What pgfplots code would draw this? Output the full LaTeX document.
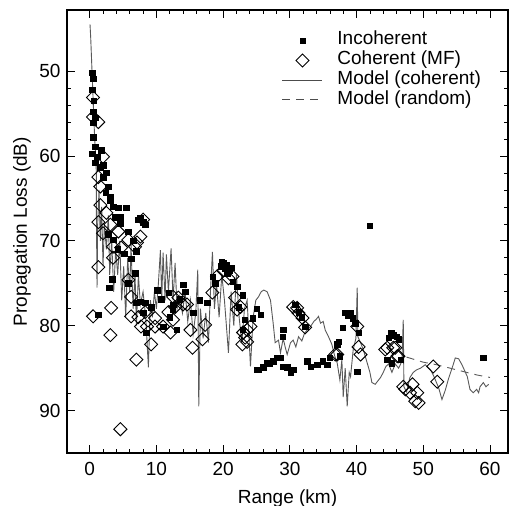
\documentclass[border=0pt]{standalone}
\usepackage{fontspec}
\setmainfont{Liberation Sans}
\usepackage{pgfplots}
\pgfplotsset{compat=1.18}
\pgfplotsset{
  legmark/.style={legend image code/.code={\draw[##1] plot coordinates {(20pt,0pt)}; \path[draw=none,fill=none] (0pt,0pt) rectangle (55pt,0pt);}},
  legline/.style={legend image code/.code={\draw[##1] (0pt,0pt) -- (40pt,0pt); \path[draw=none,fill=none] (0pt,0pt) rectangle (55pt,0pt);}},
}
\pgfplotstableread{
x y
0.4 50.2
0.5 50.9
0.4 52.2
0.6 53.5
0.5 54.8
0.8 55.5
0.5 56.1
0.5 57.8
0.8 58.9
0.4 59.7
1.1 60.1
0.8 60.8
1.6 61.3
1.7 59.3
2.0 61.1
2.0 62.5
2.5 62.0
2.8 63.6
2.4 64.3
3.1 64.8
3.1 65.2
3.5 66.0
4.3 66.1
5.5 66.1
3.8 67.2
4.6 67.2
4.6 67.9
7.3 67.5
7.6 67.3
8.0 67.8
8.3 68.1
5.8 68.9
3.5 69.9
2.8 69.2
6.5 70.0
4.2 71.0
5.2 71.5
6.2 72.1
7.0 71.2
3.4 74.5
2.9 75.5
5.8 75.0
6.8 73.8
7.0 77.3
7.6 77.2
8.3 77.3
8.0 78.5
9.2 77.8
10.1 75.8
10.7 76.9
11.8 76.1
12.5 77.5
12.4 78.1
13.5 76.9
14.0 75.2
14.3 76.0
1.3 78.7
8.5 80.8
11.0 80.1
12.0 79.0
13.0 80.5
15.5 78.5
16.5 77.0
17.6 77.3
18.4 74.2
18.8 75.0
19.6 73.0
19.8 72.5
20.0 72.6
20.3 73.3
20.5 72.8
20.6 73.8
21.0 73.5
21.2 73.2
21.4 74.8
22.1 75.4
22.3 77.8
22.9 76.4
22.9 80.5
23.2 79.3
24.4 79.1
25.0 78.0
25.6 78.7
25.1 85.2
25.3 85.2
26.0 84.9
26.6 84.4
27.0 84.4
27.5 84.2
28.0 83.8
28.6 83.8
28.9 84.8
29.6 84.9
30.1 85.5
30.5 85.2
29.0 80.5
28.9 81.3
30.8 77.5
31.3 78.4
31.8 79.0
32.3 80.1
32.6 84.2
33.1 84.8
34.1 84.6
34.9 84.2
35.6 84.6
36.0 83.8
37.1 82.2
37.3 81.9
37.5 83.6
37.9 80.2
38.3 78.5
38.7 78.8
39.1 78.5
39.4 79.1
39.8 79.7
40.3 80.8
40.1 85.4
42.0 68.2
44.8 81.4
45.2 80.9
45.5 81.1
46.0 81.3
46.3 81.6
46.6 84.0
45.3 84.4
44.6 84.0
59.0 83.8
}\incoherent
\pgfplotstableread{
x y
0.5 53.1
0.5 55.4
1.3 56.0
2.0 60.1
1.3 62.5
1.6 63.6
1.6 65.8
2.5 66.7
1.3 67.8
3.1 68.1
2.0 69.1
4.3 68.9
8.0 67.5
7.6 69.5
5.8 69.9
3.5 70.7
4.7 70.8
6.8 70.7
7.1 70.2
3.5 72.0
1.3 73.1
5.8 74.6
6.2 76.6
0.5 78.9
3.2 77.9
3.1 81.1
7.0 84.0
4.6 92.2
6.2 78.9
8.3 78.4
7.3 79.0
8.6 80.1
9.8 79.1
9.8 80.1
11.0 80.1
11.8 78.4
12.5 79.3
12.1 80.8
9.2 82.2
7.7 80.1
12.5 76.6
12.8 77.8
14.0 77.5
13.3 76.7
14.6 77.5
15.1 80.5
15.4 82.6
16.9 81.6
17.3 79.9
18.4 76.1
19.1 74.2
20.0 73.5
20.8 74.4
21.4 74.2
21.8 76.7
22.6 77.8
22.1 78.1
23.0 80.8
23.6 80.5
23.3 81.4
22.9 82.2
23.6 81.9
24.1 80.1
30.5 77.8
31.1 77.9
31.3 78.5
31.9 79.1
32.3 80.2
36.8 83.4
37.1 83.4
40.1 80.1
40.3 82.5
40.6 83.4
44.3 82.8
44.6 82.6
45.5 82.6
45.8 82.6
46.1 83.6
46.3 83.6
47.0 87.2
47.3 87.5
48.0 87.9
48.4 86.9
48.8 88.9
49.1 87.9
49.3 89.1
51.5 84.8
52.1 86.6
}\coherent
\pgfplotstableread{
x y
0.05 44.5
0.15 46
0.25 48
0.35 50
0.45 52
0.55 54
0.65 56
0.75 58
0.9 60
1.0 62
1.0 66
1.1 75.5
1.2 68
1.4 64
1.6 70
1.8 66
2.0 73
2.2 68
2.5 71
2.8 67
3.0 74
3.3 70
3.6 76
3.9 71
4.2 74
4.5 70
4.8 77
5.1 73
5.4 79
5.7 72
6.0 76
6.2 70.5
6.5 78
6.8 74
7.0 80
7.3 74
7.6 77.5
8.0 76
8.4 79
8.8 84.9
9.1 77
9.4 79
9.7 76
10.0 78
10.3 75
10.6 71.1
10.8 77
11.0 71.4
11.3 77
11.5 71.6
11.8 76
12.2 70.9
12.5 77
12.8 72.6
13.1 78
13.5 76.5
13.9 78.5
14.3 76
14.7 79.5
15.1 77
15.5 81
15.9 78.5
16.2 73.4
16.35 89.5
16.6 78
17.0 81.5
17.4 78.5
17.8 82
18.1 76
18.4 71.3
18.7 78
19.0 75
19.4 79
19.8 74
20.2 77
20.8 83.2
21.2 76
21.6 80
22.0 74
22.4 79
22.8 82
23.2 78
23.6 77
24.1 84.8
24.5 79
24.9 77
25.3 76.6
25.7 76
26.1 75.8
26.6 76
27.1 77
27.5 79.7
27.8 82
28.3 81.7
28.6 83.2
29.0 81.5
29.3 82.5
29.6 83.4
30.1 82
30.5 81.7
30.9 82.5
31.3 81.3
31.8 81.8
32.2 80.9
32.6 80.5
33.1 80.1
33.6 79.5
34.0 79.2
34.3 78.9
34.6 79.7
35.0 79.5
35.3 80.5
35.8 81.3
36.3 82.2
36.7 83.5
37.1 84.4
37.5 86.4
37.8 84
38.0 88.4
38.3 85
38.6 89.5
38.9 85.5
39.1 86
39.5 82.8
39.9 81.5
40.1 75.5
40.2 81.3
40.6 82
41.0 82.8
41.6 84.4
42.0 85.5
42.3 86.7
42.8 86.9
43.2 86.5
43.6 86.1
44.0 85.5
44.4 84.8
44.8 84.5
45.3 85.5
45.8 84.5
46.3 85
46.8 84.2
47.0 79.3
47.1 87.2
47.5 87.8
48.0 86.1
48.5 85.5
49.0 85.2
49.6 85.0
50.3 84.6
51.1 85.2
51.6 86.0
52.3 87.3
52.8 88.7
53.3 87.6
53.8 86.2
54.4 84.8
54.8 83.8
55.3 83.9
55.8 84.6
56.2 85.3
56.6 86.0
57.0 87.5
57.5 87.9
58.0 87.5
58.3 87.9
58.5 87.2
59.0 86.7
59.4 87.2
59.8 86.9
}\modelcoh
\pgfplotstableread{
x y
47.5 83.7
50.0 84.3
52.0 84.6
54.0 85.0
56.0 85.4
58.0 85.8
60.0 86.1
}\modelrand
\begin{document}
\fontsize{19}{22}\selectfont
\begin{tikzpicture}
\begin{axis}[
  at={(0pt,0pt)}, anchor=south west,
  scale only axis, width=441pt, height=443pt,
  xmin=-3.4, xmax=62.7, ymin=42.8, ymax=95, y dir=reverse,
  xtick={0,10,...,60}, ytick={50,60,...,90},
  minor x tick num=4, minor y tick num=4,
  tick align=inside, major tick length=8pt, minor tick length=4pt,
  tick style={black, line width=0.7pt},
  axis line style={black, line width=1.1pt},
  /pgf/number format/assume math mode=true,
  ticklabel style={font=\fontsize{19}{22}\selectfont},
  xticklabel style={anchor=base, yshift=-22pt},
  yticklabel style={anchor=east},
  xlabel={Range (km)}, ylabel={Propagation Loss (dB)},
  label style={font=\fontsize{19}{22}\selectfont},
  xlabel style={at={(axis description cs:0.5,-0.1129)}, anchor=base},
  ylabel style={at={(axis description cs:-0.0907,0.5)}, anchor=base},
  legend cell align=left,
  legend style={at={(axis description cs:0.4875,0.9526)}, anchor=north west,
    draw=none, fill=none, inner sep=0pt, outer sep=0pt, row sep=0pt,
    font=\fontsize{19}{22}\selectfont,
    nodes={inner sep=0pt, text height=14pt, text depth=5.7pt}},
]
\addplot[black!65, line width=0.9pt, forget plot] table[x=x,y=y] {\modelcoh};
\addplot[black!65, line width=0.9pt, dash pattern=on 8pt off 6pt, forget plot] table[x=x,y=y] {\modelrand};
\addplot[only marks, mark=square*, mark size=2.7pt, black, legmark]
  table[x=x,y=y] {\incoherent};
\addlegendentry{Incoherent}
\addplot[only marks, mark=square, mark size=4.6pt, mark options={rotate=45, line width=0.9pt}, black, legmark]
  table[x=x,y=y] {\coherent};
\addlegendentry{Coherent (MF)}
\addlegendimage{black!70, line width=0.9pt, legline}
\addlegendentry{Model (coherent)}
\addlegendimage{black!70, line width=0.9pt, dash pattern=on 8pt off 6pt, legline}
\addlegendentry{Model (random)}
\end{axis}
\pgfresetboundingbox
\path (-67pt,-53pt) rectangle (445pt,453pt);
\end{tikzpicture}
\end{document}
